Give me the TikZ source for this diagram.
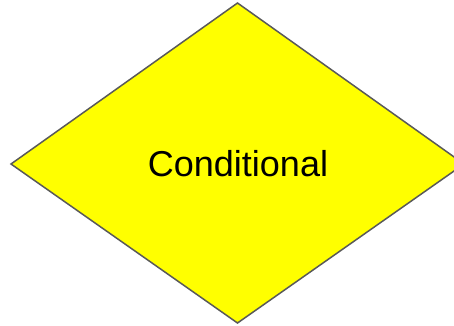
\documentclass[tikz,border=0pt]{standalone}
\usepackage{fontspec}
\setmainfont{Liberation Sans}
\definecolor{condfill}{RGB}{255,255,0}
\definecolor{condline}{RGB}{89,89,89}
\begin{document}
\begin{tikzpicture}[x=1pt,y=-1pt,
  cond/.style={fill=condfill,draw=condline,line width=1.5pt,line join=miter}]
\useasboundingbox (0,0) rectangle (454,325);
\coordinate (t) at (237.5,3);
\coordinate (l) at (11,164);
\coordinate (b) at (237.5,323);
\coordinate (r) at (464,164);
\draw[cond] (t) -- (r) -- (b) -- (l) -- cycle;
\node[anchor=base,inner sep=0pt,font=\fontsize{36}{40}\selectfont] (txt) at (238,176.7) {Conditional};
\end{tikzpicture}
\end{document}
